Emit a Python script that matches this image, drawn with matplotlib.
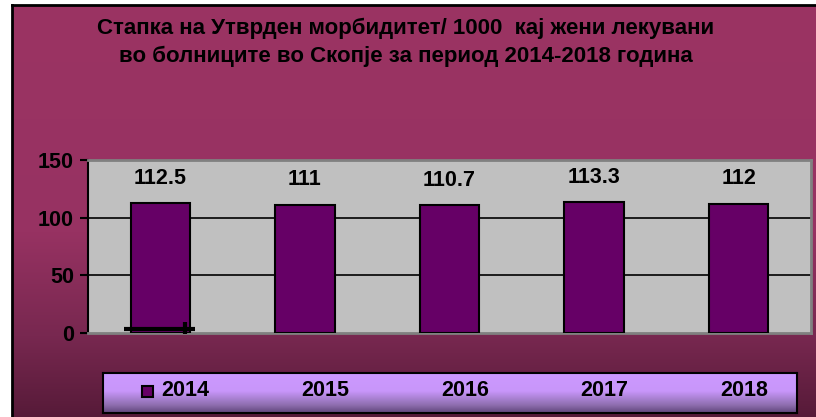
"""Morbidity rate per 1000 among women treated in Skopje hospitals, 2014-2018."""
import numpy as np
import matplotlib.pyplot as plt
from matplotlib.colors import LinearSegmentedColormap
from matplotlib.patches import Rectangle

plt.rcParams['font.family'] = ['Liberation Sans', 'DejaVu Sans']

# --- data ---------------------------------------------------------------------
years = ["2014", "2015", "2016", "2017", "2018"]
rates = [112.5, 111.0, 110.7, 113.3, 112.0]
rate_labels = ["112.5", "111", "110.7", "113.3", "112"]
stray_value = 3.5          # the little leftover mark at the foot of the 2014 bar
y_ticks = [0, 50, 100, 150]
title = ("Стапка на Утврден морбидитет/ 1000  кај жени лекувани\n"
         "во болниците во Скопје за период 2014-2018 година")

BAR = "#660066"
W, H = 816, 417

fig = plt.figure(figsize=(W / 100, H / 100), dpi=100, facecolor="white")


def frac(x0, y0, x1, y1):
    """pixel box (top-left origin) -> figure fraction rect"""
    return [x0 / W, 1 - y1 / H, (x1 - x0) / W, (y1 - y0) / H]


# --- chart-area background (plum, darkening toward the bottom) ---------------
bg = fig.add_axes(frac(12, 5, W + 2, H + 2), zorder=0)
bg_cmap = LinearSegmentedColormap.from_list(
    "bg", [(0.0, "#9b3463"), (0.55, "#973262"), (0.8, "#782850"), (1.0, "#561a38")])
bg.imshow(np.linspace(0, 1, 256)[:, None], aspect="auto", cmap=bg_cmap,
          extent=[0, 1, 0, 1])
bg.set_xlim(0, 1)
bg.set_ylim(0, 1)
bg.set_xticks([])
bg.set_yticks([])
for s in ("right", "bottom"):
    bg.spines[s].set_visible(False)
for s in ("left", "top"):
    bg.spines[s].set_linewidth(2)
    bg.spines[s].set_color("black")

fig.text(406 / W, 1 - 42 / H, title, ha="center", va="center", fontsize=16,
         fontweight="bold", linespacing=1.4, color="black", zorder=5)

# --- bars ----------------------------------------------------------------------
ax = fig.add_axes(frac(88, 160, 811, 333), zorder=2)
ax.set_facecolor("#c0c0c0")
x = np.arange(len(years))
bars = ax.bar(x, rates, width=0.41, color=BAR, edgecolor="black",
              linewidth=1.5, zorder=3)
for b, lab in zip(bars, rate_labels):
    ax.annotate(lab, (b.get_x() + b.get_width() / 2, b.get_height()),
                xytext=(0, 18), textcoords="offset points", ha="center",
                va="center", fontsize=15.5, fontweight="bold")

# leftover mark on the 2014 bar
ax.hlines(stray_value, x[0] - 0.25, x[0] + 0.24, color="black", lw=3, zorder=4)
ax.plot([x[0] + 0.17], [stray_value - 0.5], marker="|", ms=11, mew=3,
        color="black", zorder=4)

ax.set_xlim(-0.5, len(years) - 0.5)
ax.set_ylim(0, 150)
ax.set_yticks(y_ticks)
ax.set_yticklabels([str(v) for v in y_ticks], fontsize=15.5, fontweight="bold")
ax.set_xticks([])
ax.tick_params(axis="y", direction="out", length=6, width=1.5, pad=4)
for v in (50, 100):
    ax.axhline(v, color="black", lw=1.2, zorder=1)
for s in ("top", "right", "bottom"):
    ax.spines[s].set_color("#808080")
    ax.spines[s].set_linewidth(2)
ax.spines["left"].set_color("black")
ax.spines["left"].set_linewidth(1.5)

# --- legend box (lavender gradient) -------------------------------------------
lg = fig.add_axes(frac(103, 373, 797, 413), zorder=3)
lg_cmap = LinearSegmentedColormap.from_list(
    "lg", [(0.0, "#cc99ff"), (0.45, "#c896fa"), (0.8, "#8f6fb0"), (1.0, "#60457a")])
lg.imshow(np.linspace(0, 1, 128)[:, None], aspect="auto", cmap=lg_cmap,
          extent=[0, 1, 0, 1])
lg.set_xlim(0, 1)
lg.set_ylim(0, 1)
lg.set_xticks([])
lg.set_yticks([])
for s in lg.spines.values():
    s.set_linewidth(1.5)
    s.set_color("black")

label_px = [185, 325, 465, 604, 744]
for yr, px in zip(years, label_px):
    lg.text((px - 103) / 694, 0.55, yr, ha="center", va="center",
            fontsize=15.5, fontweight="bold")
lg.add_patch(Rectangle(((142 - 103) / 694, 0.4), 11 / 694, 0.275,
                       facecolor=BAR, edgecolor="black", lw=1.5))

fig.savefig("out.png", dpi=100, facecolor="white")
